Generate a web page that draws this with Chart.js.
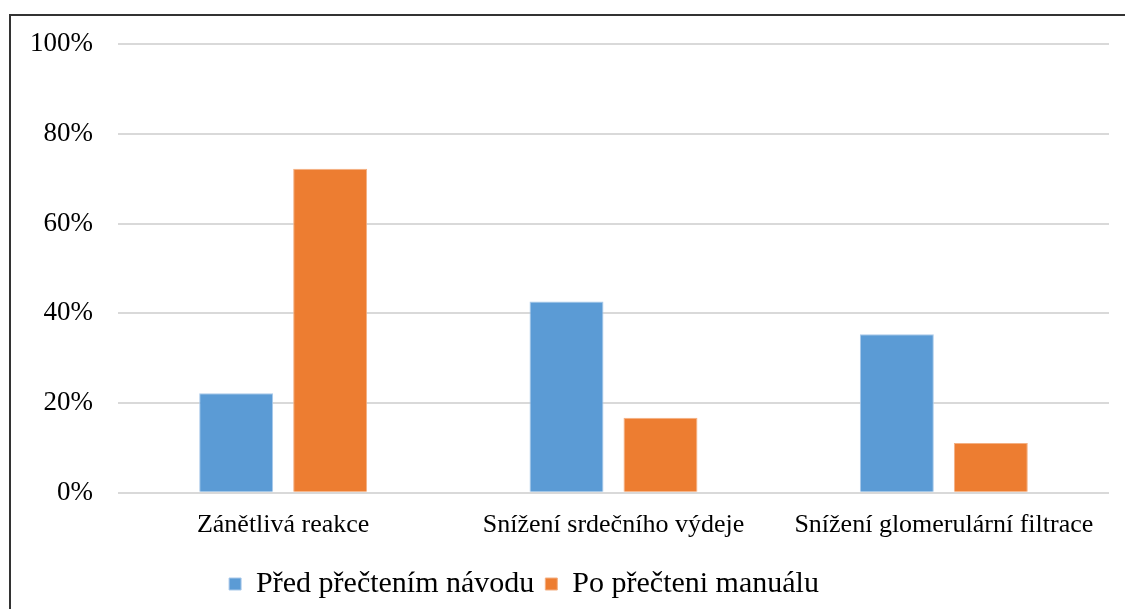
<!DOCTYPE html>
<html>
<head>
<meta charset="utf-8">
<script src="https://cdn.jsdelivr.net/npm/chart.js@4"></script>
<style>
  html, body { margin: 0; padding: 0; background: #fff; overflow: hidden; }
  #frame { position: absolute; left: 9px; top: 14px; width: 1300px; height: 800px;
           border-left: 2px solid #333; border-top: 2px solid #333; }
  #wrap { position: absolute; left: 0; top: 0; width: 1125px; height: 609px; }
</style>
</head>
<body>
<div id="frame"></div>
<div id="wrap"><canvas id="c" width="1125" height="609"></canvas></div>
<script>
const categories = ["Zánětlivá reakce", "Snížení srdečního výdeje", "Snížení glomerulární filtrace"];
const seriesNames = ["Před přečtením návodu", "Po přečteni manuálu"];
const beforeValues = [22.2, 42.6, 35.3];
const afterValues = [72.2, 16.7, 11.1];
const yTicks = [0, 20, 40, 60, 80, 100];

const serif = "'Liberation Serif', 'Times New Roman', serif";

const legendShift = {
  id: 'legendShift',
  afterLayout(chart) {
    if (chart.legend) { chart.legend.left -= 33; chart.legend.right -= 33; }
  }
};

new Chart(document.getElementById('c'), {
  type: 'bar',
  data: {
    labels: categories,
    datasets: [
      { label: seriesNames[0], data: beforeValues, backgroundColor: '#5b9bd5', borderColor: '#a9c9ea', borderWidth: 1 },
      { label: seriesNames[1], data: afterValues, backgroundColor: '#ed7d31', borderColor: '#f4b083', borderWidth: 1 }
    ]
  },
  plugins: [legendShift],
  options: {
    responsive: false,
    animation: false,
    devicePixelRatio: 1,
    categoryPercentage: 0.569,
    barPercentage: 0.787,
    layout: { padding: { left: 5, right: 16, top: 44, bottom: 0 } },
    plugins: {
      tooltip: { enabled: false },
      legend: {
        position: 'bottom',
        labels: {
          boxWidth: 12, boxHeight: 12, color: '#000',
          font: { family: serif, size: 30 },
          padding: 11
        }
      }
    },
    scales: {
      x: {
        grid: { display: false, drawTicks: false },
        border: { display: false },
        ticks: { color: '#000', font: { family: serif, size: 26 }, padding: 17, maxRotation: 0 }
      },
      y: {
        min: 0, max: 100,
        afterBuildTicks: (axis) => { axis.ticks = yTicks.map(v => ({ value: v })); },
        grid: { color: '#d9d9d9', lineWidth: 2, drawTicks: false },
        border: { display: false },
        ticks: { color: '#000', font: { family: serif, size: 27 }, padding: 25,
                 callback: (v) => v + '%' }
      }
    }
  }
});
</script>
</body>
</html>
